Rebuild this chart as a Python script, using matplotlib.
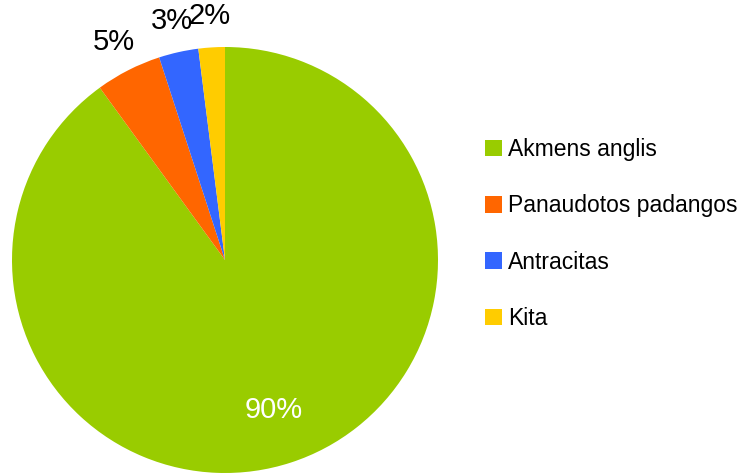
import numpy as np
import matplotlib.pyplot as plt
from matplotlib.patches import Patch

plt.rcParams['font.family'] = ['Liberation Sans', 'DejaVu Sans']

labels = ['Akmens anglis', 'Panaudotos padangos', 'Antracitas', 'Kita']
values = [90, 5, 3, 2]
colors = ['#99cc00', '#ff6600', '#3366ff', '#ffcc00']

W, H = 737, 473
fig = plt.figure(figsize=(W / 100, H / 100), dpi=100)

cx, cy, r = 225, 260, 213
ax = fig.add_axes([(cx - r) / W, (H - cy - r) / H, 2 * r / W, 2 * r / H])

wedges, _, autotexts = ax.pie(values, colors=colors, startangle=90, counterclock=False,
                              radius=1, autopct='%1.0f%%', pctdistance=0.74,
                              textprops={'fontsize': 21})
ax.set_xlim(-1, 1)
ax.set_ylim(-1, 1)
ax.set_aspect('equal')
ax.axis('off')

for i, (w, t) in enumerate(zip(wedges, autotexts)):
    if i == 0:
        t.set_color('white')
        continue
    ang = np.deg2rad((w.theta1 + w.theta2) / 2)
    t.set_position((1.15 * np.cos(ang), 1.15 * np.sin(ang)))
    t.set_color('black')
    t.set_clip_on(False)

handles = [Patch(facecolor=c, edgecolor='none') for c in colors]
fig.legend(handles, labels, loc='center left', bbox_to_anchor=(485 / W, 1 - 234 / H),
           frameon=False, fontsize=16.5, handlelength=0.72, handleheight=0.72,
           handletextpad=0.3, labelspacing=1.45, borderpad=0, borderaxespad=0)

fig.savefig('out.png', dpi=100)
